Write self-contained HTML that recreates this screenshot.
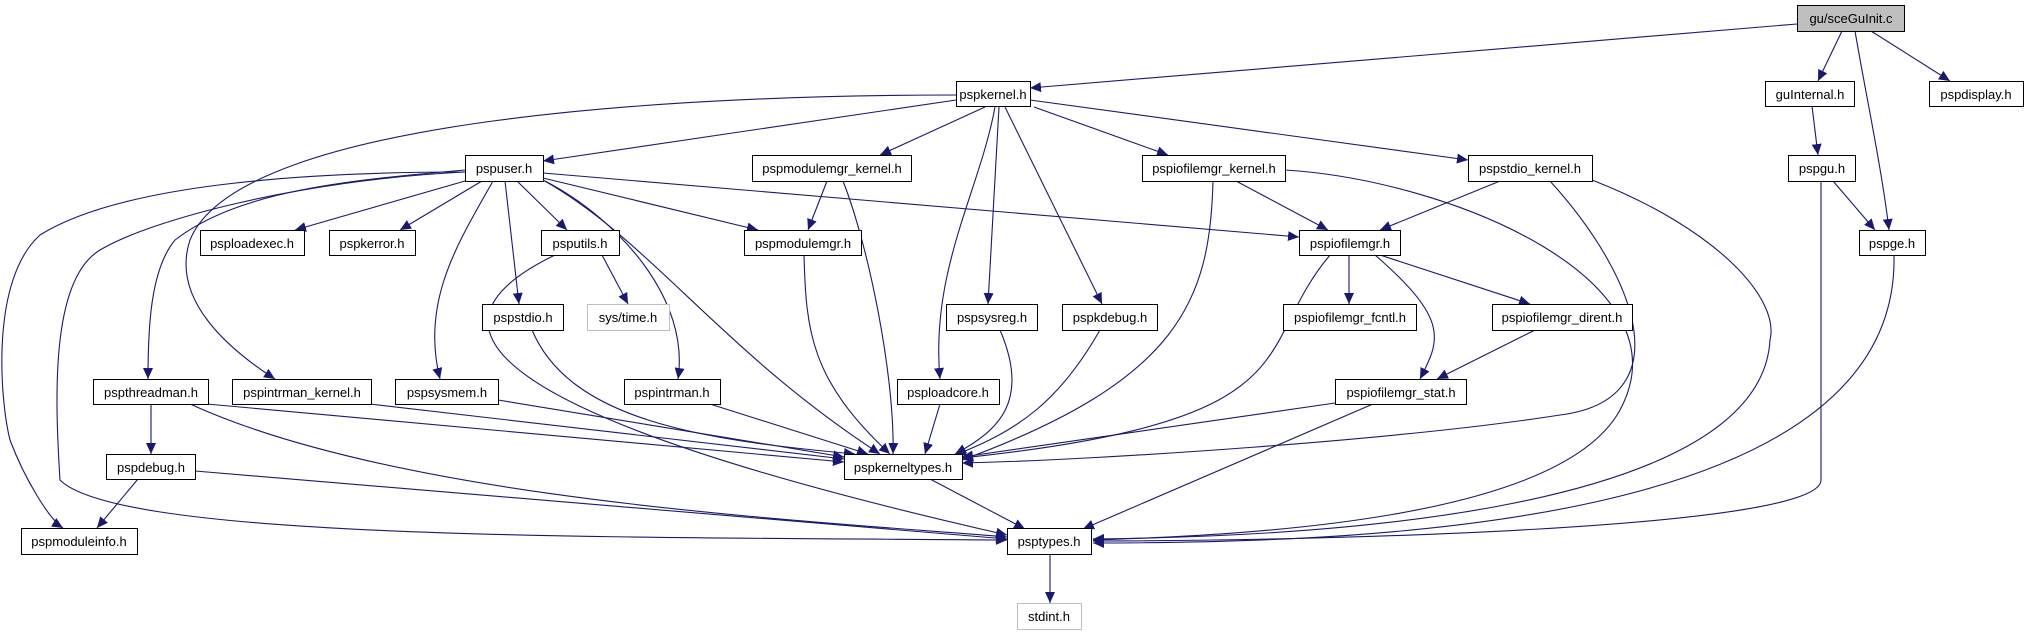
<!DOCTYPE html>
<html><head><meta charset="utf-8"><style>
html,body{margin:0;padding:0;background:#fff;}
svg{display:block;}
text{font-family:"Liberation Sans",sans-serif;font-size:13px;fill:#000;}
</style></head><body>
<svg width="2028" height="635" viewBox="0 0 2028 635" xmlns="http://www.w3.org/2000/svg">
<defs>
<marker id="a" markerUnits="userSpaceOnUse" markerWidth="12" markerHeight="10" refX="11" refY="5" orient="auto">
<path d="M0,0 L11,5 L0,10 z" fill="#191970"/>
</marker>
</defs>
<g fill="none" stroke="#191970" stroke-width="1.1" marker-end="url(#a)">
<path d="M1797,24 L1030,88"/>
<path d="M1842,31 L1818,81"/>
<path d="M1855,31 C1865,90 1882,170 1889,230"/>
<path d="M1871,31 L1950,81"/>
<path d="M1812,106 L1818,155"/>
<path d="M1833,181 L1875,230"/>
<path d="M1821,181 L1821,480 C1821,530 1300,541 1093,541"/>
<path d="M1894,255 C1900,520 1400,543 1093,543"/>
<path d="M956,100 L543,161"/>
<path d="M985,107 L880,155"/>
<path d="M1034,107 L1168,155"/>
<path d="M1030,100 L1468,160"/>
<path d="M956,95 C700,95 240,115 190,240 C170,300 230,350 275,379"/>
<path d="M995,107 C980,190 930,270 940,379"/>
<path d="M999,107 L988,304"/>
<path d="M1005,107 L1102,304"/>
<path d="M465,181 L295,230"/>
<path d="M482,181 L400,230"/>
<path d="M517,181 L567,230"/>
<path d="M505,181 L519,304"/>
<path d="M543,178 L758,230"/>
<path d="M543,173 L1299,237"/>
<path d="M465,170 C350,180 240,190 175,240 C150,270 148,330 148,379"/>
<path d="M465,172 C300,172 120,185 40,235 C-10,280 0,400 10,440 C25,480 50,520 63,528"/>
<path d="M465,172 C300,180 150,220 100,250 C50,280 55,400 60,480 C120,540 600,537 1007,540"/>
<path d="M493,181 C460,240 420,300 440,379"/>
<path d="M545,181 C620,220 690,300 678,379"/>
<path d="M543,180 C650,240 720,350 880,454"/>
<path d="M827,181 L808,230"/>
<path d="M843,181 C870,250 895,380 893,454"/>
<path d="M804,255 C806,330 810,380 890,454"/>
<path d="M1236,181 L1328,230"/>
<path d="M1213,181 C1210,300 1180,380 962,460"/>
<path d="M1285,170 C1450,180 1690,280 1620,410 C1560,520 1250,535 1093,540"/>
<path d="M1500,181 L1380,230"/>
<path d="M1550,181 C1640,280 1680,400 1560,415 C1400,440 1100,460 962,463"/>
<path d="M1592,180 C1720,230 1780,300 1770,340 C1760,520 1280,537 1093,539"/>
<path d="M1349,255 L1349,304"/>
<path d="M1380,255 L1530,304"/>
<path d="M1375,255 C1450,320 1440,340 1420,379"/>
<path d="M1330,255 C1250,350 1320,420 962,458"/>
<path d="M1535,330 L1437,379"/>
<path d="M1335,403 L962,457"/>
<path d="M1373,404 L1083,529"/>
<path d="M602,255 L628,304"/>
<path d="M555,255 C400,330 500,420 1007,535"/>
<path d="M532,330 C570,420 700,440 855,454"/>
<path d="M1000,330 C1030,400 1000,430 955,454"/>
<path d="M1100,330 C1060,400 1020,430 955,455"/>
<path d="M940,404 L925,454"/>
<path d="M710,404 L868,454"/>
<path d="M498,400 L844,457"/>
<path d="M370,404 L844,459"/>
<path d="M207,404 L844,462"/>
<path d="M190,404 C400,500 800,520 1007,537"/>
<path d="M151,404 L151,454"/>
<path d="M138,479 L97,528"/>
<path d="M195,471 L1007,539"/>
<path d="M930,479 L1025,529"/>
<path d="M1050,554 L1050,603"/>
</g>
<g stroke-width="1">
<rect x="1797.5" y="5.5" width="107" height="26" fill="#bfbfbf" stroke="#000"/>
<g fill="#fff" stroke="#000">
<rect x="956.5" y="81.5" width="74" height="25"/>
<rect x="1765.5" y="81.5" width="89" height="25"/>
<rect x="1929.5" y="81.5" width="94" height="25"/>
<rect x="465.5" y="155.5" width="78" height="26"/>
<rect x="752.5" y="155.5" width="159" height="26"/>
<rect x="1142.5" y="155.5" width="143" height="26"/>
<rect x="1468.5" y="155.5" width="124" height="26"/>
<rect x="1788.5" y="155.5" width="67" height="26"/>
<rect x="200.5" y="230.5" width="104" height="25"/>
<rect x="329.5" y="230.5" width="86" height="25"/>
<rect x="541.5" y="230.5" width="78" height="25"/>
<rect x="744.5" y="230.5" width="117" height="25"/>
<rect x="1299.5" y="230.5" width="101" height="25"/>
<rect x="1859.5" y="230.5" width="66" height="25"/>
<rect x="482.5" y="304.5" width="81" height="26"/>
<rect x="946.5" y="304.5" width="91" height="26"/>
<rect x="1062.5" y="304.5" width="95" height="26"/>
<rect x="1283.5" y="304.5" width="133" height="26"/>
<rect x="1492.5" y="304.5" width="140" height="26"/>
<rect x="93.5" y="379.5" width="115" height="25"/>
<rect x="232.5" y="379.5" width="139" height="25"/>
<rect x="395.5" y="379.5" width="103" height="25"/>
<rect x="624.5" y="379.5" width="96" height="25"/>
<rect x="897.5" y="379.5" width="102" height="25"/>
<rect x="1335.5" y="379.5" width="131" height="25"/>
<rect x="106.5" y="454.5" width="89" height="25"/>
<rect x="844.5" y="454.5" width="118" height="25"/>
<rect x="21.5" y="528.5" width="116" height="26"/>
<rect x="1007.5" y="528.5" width="84" height="26"/>
</g>
<g fill="#fff" stroke="#bfbfbf">
<rect x="587.5" y="304.5" width="82" height="26"/>
<rect x="1017.5" y="603.5" width="64" height="26"/>
</g>
</g>
<g text-anchor="middle">
<text x="1851" y="23">gu/sceGuInit.c</text>
<text x="993" y="99">pspkernel.h</text>
<text x="1810" y="99">guInternal.h</text>
<text x="1976" y="99">pspdisplay.h</text>
<text x="504" y="173">pspuser.h</text>
<text x="832" y="173">pspmodulemgr_kernel.h</text>
<text x="1214" y="173">pspiofilemgr_kernel.h</text>
<text x="1530" y="173">pspstdio_kernel.h</text>
<text x="1822" y="173">pspgu.h</text>
<text x="252" y="248">psploadexec.h</text>
<text x="372" y="248">pspkerror.h</text>
<text x="580" y="248">psputils.h</text>
<text x="803" y="248">pspmodulemgr.h</text>
<text x="1350" y="248">pspiofilemgr.h</text>
<text x="1892" y="248">pspge.h</text>
<text x="523" y="322">pspstdio.h</text>
<text x="628" y="322">sys/time.h</text>
<text x="992" y="322">pspsysreg.h</text>
<text x="1110" y="322">pspkdebug.h</text>
<text x="1350" y="322">pspiofilemgr_fcntl.h</text>
<text x="1562" y="322">pspiofilemgr_dirent.h</text>
<text x="151" y="397">pspthreadman.h</text>
<text x="302" y="397">pspintrman_kernel.h</text>
<text x="447" y="397">pspsysmem.h</text>
<text x="672" y="397">pspintrman.h</text>
<text x="948" y="397">psploadcore.h</text>
<text x="1401" y="397">pspiofilemgr_stat.h</text>
<text x="151" y="472">pspdebug.h</text>
<text x="903" y="472">pspkerneltypes.h</text>
<text x="79" y="546">pspmoduleinfo.h</text>
<text x="1049" y="546">psptypes.h</text>
<text x="1049" y="621">stdint.h</text>
</g>
</svg>
</body></html>
